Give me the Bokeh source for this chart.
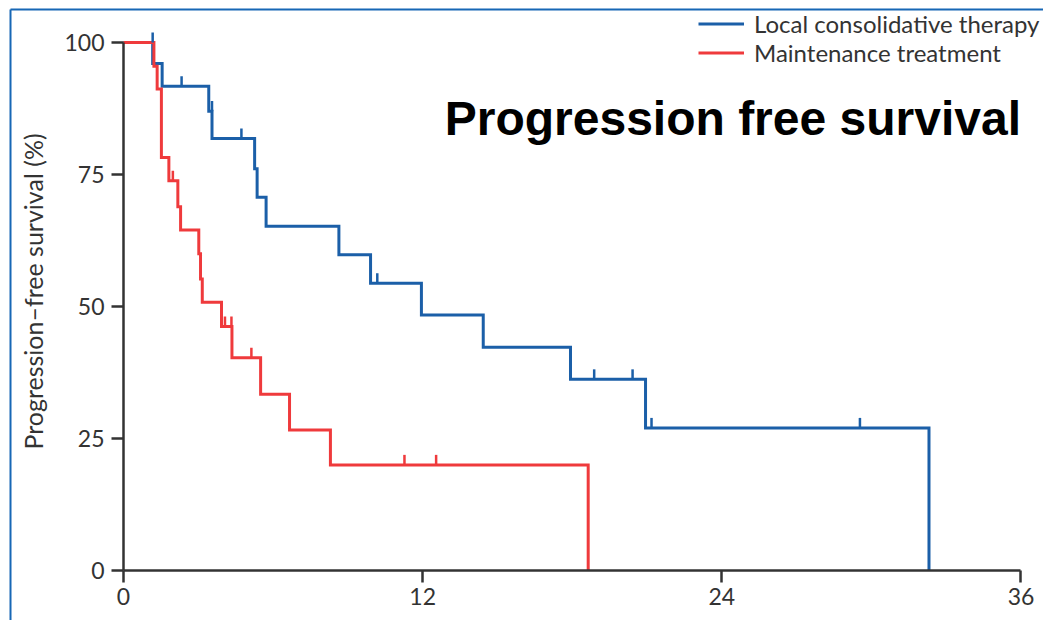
import math

from bokeh.plotting import figure
from bokeh.models import LinearAxis, FixedTicker, Range1d, Legend, LegendItem, Label
from bokeh.embed import file_html
from bokeh.resources import INLINE

# Kaplan-Meier estimates, progression-free survival (%) by month
lct_time = [0, 1.17, 1.55, 3.42, 3.55, 5.26, 5.36, 5.72, 8.64, 9.91, 11.95, 14.43, 17.93, 20.94, 32.31]
lct_surv = [100, 96.0, 91.7, 87.0, 81.8, 76.1, 70.7, 65.2, 59.8, 54.4, 48.4, 42.3, 36.2, 27.0, 0]
lct_cens_time = [1.17, 2.33, 3.55, 4.73, 10.18, 18.88, 20.42, 21.18, 29.54]
lct_cens_surv = [100, 91.7, 87.0, 81.8, 54.4, 36.2, 36.2, 27.0, 27.0]

mt_time = [0, 1.22, 1.35, 1.52, 1.82, 2.18, 2.29, 3.02, 3.09, 3.16, 3.93, 4.35, 5.50, 6.66, 8.30, 18.64]
mt_surv = [100, 95.5, 91.2, 78.2, 73.8, 68.9, 64.5, 60.0, 55.2, 50.8, 46.2, 40.3, 33.4, 26.6, 20.0, 0]
mt_cens_time = [1.98, 4.07, 4.33, 5.13, 11.27, 12.54]
mt_cens_surv = [73.8, 46.2, 46.2, 40.3, 20.0, 20.0]

x_ticks = [0, 12, 24, 36]
y_ticks = [0, 25, 50, 75, 100]
series_names = ["Local consolidative therapy", "Maintenance treatment"]
title_text = "Progression free survival"
y_label = "Progression\u2013free survival (%)"

BLUE = "#1b5fa8"
RED = "#ef3a3c"
FRAME_BLUE = "#1767b5"
AXIS = "#333333"
FONT = "Lato"

W, H = 1043, 620
# pixel placement of the data origin and scale
X0_PX, X_PER = 123.0, 24.93
Y0_PX, Y_PER = 570.0, 5.28


def dx(px):
    return (px - X0_PX) / X_PER


def dy(py):
    return (Y0_PX - py) / Y_PER


p = figure(width=W, height=H, output_backend="svg", toolbar_location=None,
           x_axis_location=None, y_axis_location=None,
           min_border=0, min_border_left=0, min_border_right=0,
           min_border_top=0, min_border_bottom=0)
p.x_range = Range1d(dx(0), dx(W))
p.y_range = Range1d(dy(H), dy(0))
p.xgrid.visible = False
p.ygrid.visible = False
p.outline_line_color = None
p.background_fill_color = "white"
p.border_fill_color = "white"

# thin blue frame along the top and left edges
p.segment(x0=[dx(10), dx(10)], y0=[dy(9), dy(9)], x1=[dx(W + 5), dx(10)], y1=[dy(9), dy(H + 5)],
          line_color=FRAME_BLUE, line_width=2)

xaxis = LinearAxis(fixed_location=0, bounds=(0, 36), ticker=FixedTicker(ticks=x_ticks))
yaxis = LinearAxis(fixed_location=0, bounds=(0, 100), ticker=FixedTicker(ticks=y_ticks))
for ax in (xaxis, yaxis):
    ax.axis_line_color = AXIS
    ax.axis_line_width = 2.5
    ax.major_tick_line_color = AXIS
    ax.major_tick_line_width = 2.5
    ax.major_tick_out = 12
    ax.major_tick_in = 0
    ax.minor_tick_line_color = None
    ax.major_label_text_font = FONT
    ax.major_label_text_font_size = "23px"
    ax.major_label_text_color = AXIS
xaxis.major_label_standoff = 5
yaxis.major_label_standoff = 7
p.add_layout(xaxis, "below")
p.add_layout(yaxis, "left")

# y-axis title, rotated along the axis
p.add_layout(Label(x=dx(32), y=dy(291), text=y_label, angle=math.pi / 2,
                   text_align="center", text_baseline="middle",
                   text_font=FONT, text_font_size="25px", text_color=AXIS))

# survival curves
r_lct = p.step(lct_time, lct_surv, mode="after", line_color=BLUE, line_width=3, line_join="miter")
r_mt = p.step(mt_time, mt_surv, mode="after", line_color=RED, line_width=3, line_join="miter")

# censoring marks
TICK = 1.9
p.segment(x0=lct_cens_time, y0=lct_cens_surv, x1=lct_cens_time,
          y1=[s + TICK for s in lct_cens_surv], line_color=BLUE, line_width=2.5)
p.segment(x0=mt_cens_time, y0=mt_cens_surv, x1=mt_cens_time,
          y1=[s + TICK for s in mt_cens_surv], line_color=RED, line_width=2.5)

legend = Legend(items=[LegendItem(label=series_names[0], renderers=[r_lct]),
                       LegendItem(label=series_names[1], renderers=[r_mt])],
                location=(698, H - 66.5), orientation="vertical",
                glyph_width=46, glyph_height=29, label_height=29, spacing=0,
                padding=0, margin=0, label_standoff=10,
                label_text_font=FONT, label_text_font_size="24px", label_text_color=AXIS,
                border_line_color=None, background_fill_alpha=0)
p.add_layout(legend)

p.add_layout(Label(x=36, y=dy(118), text=title_text, text_align="right", text_baseline="middle",
                   text_font="Liberation Sans", text_font_style="bold", text_font_size="48px",
                   text_color="black"))

open("out.html", "w").write(file_html(p, INLINE))
